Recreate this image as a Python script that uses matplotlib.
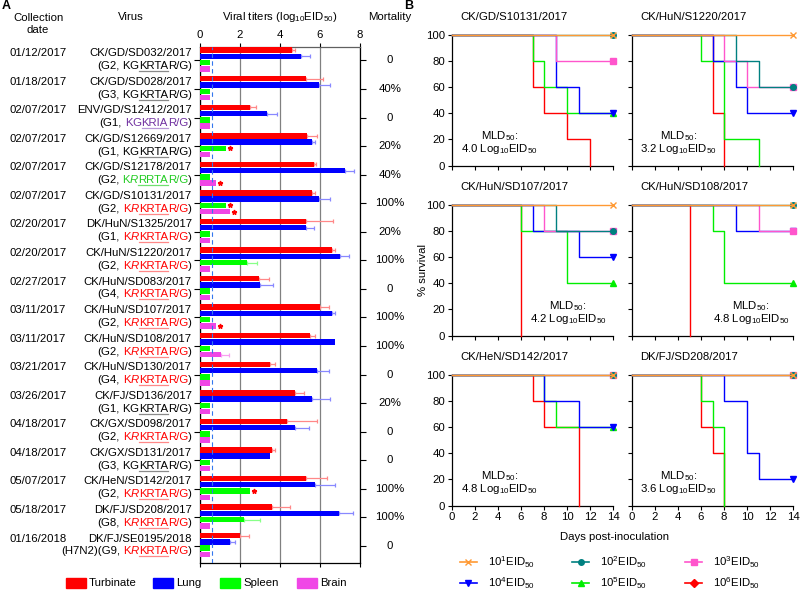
import matplotlib
matplotlib.use('Agg')
import matplotlib.pyplot as plt
import numpy as np
from matplotlib import transforms
from matplotlib.lines import Line2D
from matplotlib.patches import Rectangle

plt.rcParams['font.family'] = ['Liberation Sans', 'DejaVu Sans']
plt.rcParams['mathtext.fontset'] = 'custom'
plt.rcParams['mathtext.rm'] = 'Liberation Sans'
plt.rcParams['mathtext.it'] = 'Liberation Sans:italic'
plt.rcParams['mathtext.bf'] = 'Liberation Sans:bold'

FS = 8.2

# ---------------- Panel A data ----------------
dates = ['01/12/2017', '01/18/2017', '02/07/2017', '02/07/2017', '02/07/2017', '02/07/2017',
         '02/20/2017', '02/20/2017', '02/27/2017', '03/11/2017', '03/11/2017', '03/21/2017',
         '03/26/2017', '04/18/2017', '04/18/2017', '05/07/2017', '05/18/2017', '01/16/2018']
viruses = ['CK/GD/SD032/2017', 'CK/GD/SD028/2017', 'ENV/GD/S12412/2017', 'CK/GD/S12669/2017',
           'CK/GD/S12178/2017', 'CK/GD/S10131/2017', 'DK/HuN/S1325/2017', 'CK/HuN/S1220/2017',
           'CK/HuN/SD083/2017', 'CK/HuN/SD107/2017', 'CK/HuN/SD108/2017', 'CK/HuN/SD130/2017',
           'CK/FJ/SD136/2017', 'CK/GX/SD098/2017', 'CK/GX/SD131/2017', 'CK/HeN/SD142/2017',
           'DK/FJ/SD208/2017', 'DK/FJ/SE0195/2018']
genotypes = ['(G2,', '(G3,', '(G1,', '(G1,', '(G2,', '(G2,', '(G1,', '(G2,', '(G4,', '(G2,',
             '(G2,', '(G4,', '(G1,', '(G2,', '(G3,', '(G2,', '(G8,', '(H7N2)(G9,']
motifs = ['KGKRTAR/G', 'KGKRTAR/G', 'KGKRIAR/G', 'KGKRTAR/G', 'KRRRTAR/G', 'KRKRTAR/G',
          'KRKRTAR/G', 'KRKRTAR/G', 'KRKRTAR/G', 'KRKRTAR/G', 'KRKRTAR/G', 'KRKRTAR/G',
          'KGKRTAR/G', 'KRKRTAR/G', 'KGKRTAR/G', 'KRKRTAR/G', 'KRKRTAR/G', 'KRKRTAR/G']
mortality = ['0', '40%', '0', '20%', '40%', '100%', '20%', '100%', '0', '100%', '100%', '0',
             '20%', '0', '0', '100%', '100%', '0']

turbinate = [4.6, 5.28, 2.52, 5.35, 5.68, 5.6, 5.28, 6.6, 2.93, 6.02, 5.52, 3.52, 4.77, 4.35, 3.6, 5.28, 3.6, 2.02]
turbinate_sd = [0.15, 0.85, 0.27, 0.52, 0.13, 0.17, 1.37, 0.13, 0.52, 0.43, 0.25, 0.25, 0.43, 1.52, 0.17, 1.08, 0.88, 0.45]
lung = [5.03, 5.93, 3.37, 5.6, 7.27, 5.93, 5.28, 7.02, 3.02, 6.6, 6.77, 5.85, 5.6, 4.77, 3.52, 5.77, 6.93, 1.52]
lung_sd = [0.45, 0.55, 0.5, 0.13, 0.43, 0.55, 0.42, 0.43, 0.65, 0.13, 0.0, 0.58, 0.88, 0.67, 0.0, 1.0, 0.72, 0.25]
spleen = [0.5, 0.5, 0.5, 1.28, 0.5, 1.28, 0.5, 2.37, 0.5, 0.5, 0.5, 0.5, 0.5, 0.5, 0.5, 2.52, 2.18, 0.5]
spleen_sd = [0, 0, 0, 0, 0, 0, 0, 0.5, 0, 0, 0, 0, 0, 0, 0, 0, 0.83, 0]
brain = [0.5, 0.5, 0.5, 0.5, 0.78, 1.52, 0.5, 0.5, 0.5, 0.78, 1.03, 0.5, 0.5, 0.5, 0.5, 0.5, 0.5, 0.5]
brain_sd = [0, 0, 0, 0, 0, 0, 0, 0, 0, 0, 0.42, 0, 0, 0, 0, 0, 0, 0]
spleen_sig = [3, 5, 15]
brain_sig = [4, 5, 9]
detect_limit = 0.58

# ---------------- Panel B data ----------------
panel_titles = ['CK/GD/S10131/2017', 'CK/HuN/S1220/2017', 'CK/HuN/SD107/2017',
                'CK/HuN/SD108/2017', 'CK/HeN/SD142/2017', 'DK/FJ/SD208/2017']
mld50 = ['4.0', '3.2', '4.2', '4.8', '4.8', '3.6']
# (day, survival after that day) steps, doses 10^1 .. 10^6
survival = [
    [[], [], [(9, 80)], [(9, 60), (11, 40)], [(7, 80), (8, 60), (10, 40)], [(7, 60), (8, 40), (10, 20), (12, 0)]],
    [[], [(9, 80), (11, 60)], [(8, 80), (10, 60)], [(7, 80), (9, 60), (10, 40)], [(6, 80), (8, 20), (11, 0)], [(7, 40), (8, 0)]],
    [[], [(9, 80)], [(8, 80)], [(7, 80), (11, 60)], [(6, 80), (10, 40)], [(6, 0)]],
    [[], [], [(11, 80)], [(9, 80)], [(7, 80), (8, 40)], [(5, 0)]],
    [[], [], [], [(8, 80), (11, 60)], [(8, 80), (9, 60)], [(7, 80), (8, 60), (11, 0)]],
    [[], [], [], [(8, 80), (10, 40), (11, 20)], [(6, 80), (7, 60), (8, 0)], [(6, 60), (7, 40), (8, 0)]],
]
dose_labels = [r'10$^{1}$EID$_{50}$', r'10$^{2}$EID$_{50}$', r'10$^{3}$EID$_{50}$',
               r'10$^{4}$EID$_{50}$', r'10$^{5}$EID$_{50}$', r'10$^{6}$EID$_{50}$']
dose_colors = ['#FF9933', '#008080', '#FF55CC', '#0000FF', '#00EE00', '#FF0000']
dose_markers = ['x', 'o', 's', 'v', '^', 'D']
mld_xpos = [0.295, 0.29, 0.72, 0.74, 0.295, 0.29]

W, H = 800, 590
fig = plt.figure(figsize=(8, 5.9), dpi=100)


def fx(x):
    return x / W


def fy(y):
    return 1 - y / H


# ---------------- Panel A ----------------
axA = fig.add_axes([fx(200), fy(563), 160 / W, 516 / H])
n = len(viruses)
yy = np.arange(n)
offs = [-0.36, -0.14, 0.08, 0.30]
series = [(turbinate, turbinate_sd, '#FF0000', '#FF8888'),
          (lung, lung_sd, '#0000FF', '#8888FF'),
          (spleen, spleen_sd, '#00FF00', '#88FF88'),
          (brain, brain_sd, '#F046E6', '#F8A0F0')]
for (vals, sds, col, ecol), off in zip(series, offs):
    vals = np.array(vals)
    sds = np.array(sds)
    axA.barh(yy + off, vals, height=0.19, color=col, zorder=3)
    m = sds > 0
    axA.errorbar(vals[m], (yy + off)[m], xerr=[np.zeros(m.sum()), sds[m]], fmt='none',
                 ecolor=ecol, elinewidth=0.9, capsize=1.2, capthick=0.9, zorder=2)
sp = np.array(spleen)
br = np.array(brain)
axA.plot(sp[spleen_sig] + 0.2, yy[spleen_sig] + offs[2], ls='none', marker='*', color='red', ms=3.5, zorder=4)
axA.plot(br[brain_sig] + 0.2, yy[brain_sig] + offs[3], ls='none', marker='*', color='red', ms=3.5, zorder=4)
axA.axvline(detect_limit, color='#3377EE', ls=(0, (4, 3)), lw=0.8, zorder=4)

axA.set_xlim(0, 8)
axA.set_ylim(17.6, -0.47)
axA.set_xticks([0, 2, 4, 6, 8])
axA.xaxis.grid(True, color='#808080', lw=0.9)
axA.set_axisbelow(True)
axA.tick_params(axis='x', top=True, labeltop=True, bottom=True, labelbottom=False,
                direction='out', length=3, labelsize=FS, pad=2)
axA.set_yticks(yy)
axA.tick_params(axis='y', left=True, right=True, labelleft=False, labelright=False,
                direction='out', length=4)
for s in axA.spines.values():
    s.set_linewidth(0.9)
axA.spines['top'].set_color('#606060')

tr = transforms.blended_transform_factory(fig.transFigure, axA.transData)
renderer = fig.canvas.get_renderer()


def text_w(s, **kw):
    t = fig.text(0, 0, s, fontsize=FS, **kw)
    w = t.get_window_extent(renderer).width
    t.remove()
    return w


space_w = text_w('a a') - text_w('aa')
motif_style = {'KGKRTAR/G': ('black', '#8a8a8a', False),
               'KGKRIAR/G': ('#7030A0', '#B898D8', False),
               'KRRRTAR/G': ('#22CC22', '#70E070', True),
               'KRKRTAR/G': ('#FF0000', '#FF8888', True)}

for i in range(n):
    fig.text(fx(38), i - 0.15, dates[i], transform=tr, ha='center', va='baseline', fontsize=FS)
    fig.text(fx(192), i - 0.15, viruses[i], transform=tr, ha='right', va='baseline', fontsize=FS)
    col, ucol, ital = motif_style[motifs[i]]
    mo = motifs[i]
    pieces = [(genotypes[i], 'black', 'normal', None), (' ', None, None, None),
              (mo[0], col, 'normal', None), (mo[1], col, 'italic' if ital else 'normal', None),
              (mo[2:6], col, 'normal', ucol), (mo[6:], col, 'normal', None), (')', 'black', 'normal', None)]
    widths = [space_w if p[1] is None else text_w(p[0], style=p[2]) for p in pieces]
    x = 192 - sum(widths)
    for (txt, c, st, uc), w in zip(pieces, widths):
        if c is not None:
            fig.text(fx(x), i + 0.30, txt, transform=tr, ha='left', va='baseline',
                     fontsize=FS, color=c, style=st)
            if uc is not None:
                fig.add_artist(Line2D([fx(x), fx(x + w)], [i + 0.37, i + 0.37], transform=tr,
                                      color=uc, lw=0.9))
        x += w
    fig.text(fx(390), i, mortality[i], transform=tr, ha='center', va='center', fontsize=FS)

fig.text(fx(38), fy(24), 'Collection\ndate', ha='center', va='center', fontsize=FS, linespacing=1.25)
fig.text(fx(131), fy(17), 'Virus', ha='center', va='center', fontsize=FS)
fig.text(fx(280), fy(17), r'Viral titers (log$_{10}$EID$_{50}$)', ha='center', va='center', fontsize=FS)
fig.text(fx(390), fy(17), 'Mortality', ha='center', va='center', fontsize=FS)
fig.text(fx(2), fy(6), 'A', ha='left', va='center', fontsize=9, fontweight='bold')
fig.text(fx(404), fy(6), 'B', ha='left', va='center', fontsize=9, fontweight='bold')

tissue_names = ['Turbinate', 'Lung', 'Spleen', 'Brain']
tissue_x = [66, 153, 220, 297]
for name, tx, (_, _, col, _) in zip(tissue_names, tissue_x, series):
    fig.add_artist(Rectangle((fx(tx), fy(588)), 20 / W, 10 / H, transform=fig.transFigure,
                             color=col))
    fig.text(fx(tx + 23), fy(583), name, ha='left', va='center', fontsize=FS)

# ---------------- Panel B ----------------
pos = [(452, 35), (632, 35), (452, 205), (632, 205), (452, 375), (632, 375)]
for k, (l, t) in enumerate(pos):
    ax = fig.add_axes([fx(l), fy(t + 130.5), 161 / W, 130.5 / H])
    for d in range(6):
        steps = survival[k][d]
        xs = [0] + [s[0] for s in steps]
        ys = [100] + [s[1] for s in steps]
        final = ys[-1]
        if final > 0:
            xs = xs + [14]
            ys = ys + [final]
        z = 3 + (5 - d)
        ax.step(xs, ys, where='post', color=dose_colors[d], lw=1.0, clip_on=False, zorder=z)
        if final > 0:
            ax.plot([14], [final], marker=dose_markers[d], color=dose_colors[d], ms=4,
                    mew=1.0, clip_on=False, zorder=z)
    ax.set_xlim(0, 14)
    ax.set_ylim(0, 100)
    ax.set_xticks(range(0, 15, 2))
    ax.set_yticks(range(0, 101, 20))
    ax.spines['top'].set_visible(False)
    ax.spines['right'].set_visible(False)
    for s in ('left', 'bottom'):
        ax.spines[s].set_linewidth(0.9)
    ax.tick_params(direction='out', length=3, width=0.8, labelsize=FS, pad=2,
                   labelbottom=(k >= 4), labelleft=(k % 2 == 0))
    fig.text(fx(l + 8), fy(t - 18), panel_titles[k], ha='left', va='center', fontsize=FS)
    mx = mld_xpos[k]
    ax.text(mx, 0.225, r'MLD$_{50}$:', transform=ax.transAxes, ha='center', va='center', fontsize=FS)
    ax.text(mx, 0.13, mld50[k] + r' Log$_{10}$EID$_{50}$', transform=ax.transAxes,
            ha='center', va='center', fontsize=FS)

fig.text(fx(615), fy(537), 'Days post-inoculation', ha='center', va='center', fontsize=FS)
fig.text(fx(423), fy(270), '% survival', ha='center', va='center', fontsize=FS, rotation=90)

leg_x = [460, 572, 685]
leg_y = [562, 583]
for d in range(6):
    lx = leg_x[d % 3]
    ly = leg_y[d // 3]
    fig.add_artist(Line2D([fx(lx), fx(lx + 17)], [fy(ly), fy(ly)], transform=fig.transFigure,
                          color=dose_colors[d], lw=1.2))
    fig.add_artist(Line2D([fx(lx + 8.5)], [fy(ly)], transform=fig.transFigure,
                          color=dose_colors[d], marker=dose_markers[d], ms=4, mew=1.0))
    fig.text(fx(lx + 28), fy(ly), dose_labels[d], ha='left', va='center', fontsize=FS)

fig.savefig('out.png', dpi=100)
